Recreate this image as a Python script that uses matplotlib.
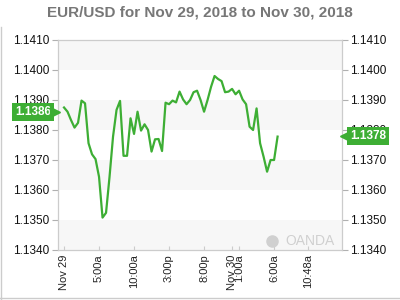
import matplotlib
matplotlib.use("Agg")
import matplotlib.pyplot as plt
from matplotlib.lines import Line2D
import matplotlib.transforms as mtransforms

plt.rcParams['font.family'] = ['Liberation Sans', 'DejaVu Sans']

title = "EUR/USD for Nov 29, 2018 to Nov 30, 2018"

# 30-minute closes, starting Nov 29 00:00
prices = [
    1.13875, 1.13861, 1.13833, 1.13808, 1.13824, 1.13898, 1.13889, 1.13756,
    1.13719, 1.13703, 1.13644, 1.13508, 1.13524, 1.13644, 1.13778, 1.13867,
    1.13897, 1.13714, 1.13714, 1.13839, 1.13787, 1.13861, 1.13798, 1.13819,
    1.13800, 1.13728, 1.13769, 1.13770, 1.13730, 1.13891, 1.13886, 1.13898,
    1.13892, 1.13928, 1.13902, 1.13886, 1.13900, 1.13926, 1.13931, 1.13900,
    1.13861, 1.13900, 1.13944, 1.13980, 1.13970, 1.13963, 1.13926, 1.13928,
    1.13937, 1.13919, 1.13931, 1.13902, 1.13886, 1.13811, 1.13800, 1.13872,
    1.13756, 1.13711, 1.13661, 1.13700, 1.13700, 1.13778,
]
hours = [i * 0.5 for i in range(len(prices))]

tick_hours = [0, 5, 10, 15, 20, 24, 25, 30, 34.8]
tick_labels = ["Nov 29", "5:00a", "10:00a", "3:00p", "8:00p", "Nov 30", "1:00a", "6:00a", "10:48a"]
y_ticks = [1.1340, 1.1350, 1.1360, 1.1370, 1.1380, 1.1390, 1.1400, 1.1410]
open_label = "1.1386"
last_label = "1.1378"

green = '#3dae34'

fig = plt.figure(figsize=(4, 3), dpi=100)
ax = fig.add_axes([0.145, 1/6, 0.71, 0.7])

for lo in y_ticks[0:-1:2]:
    ax.axhspan(lo, lo + 0.001, color='#f7f7f7', zorder=0, lw=0)

ax.plot(hours, prices, color=green, lw=1.6, zorder=3)

ax.set_xlim(-0.86, 39.7)
ax.set_ylim(1.1340, 1.1410)
ax.set_yticks(y_ticks)
ax.set_yticklabels([f"{v:.4f}" for v in y_ticks])
ax.set_xticks(tick_hours)
ax.set_xticklabels(tick_labels, rotation=90)

ax.tick_params(axis='y', left=True, right=True, labelleft=True, labelright=True,
               length=4, width=0.8, color='#b0b0b0', labelsize=8.5, labelcolor='#111111', pad=2)
ax.tick_params(axis='x', direction='in', length=3, width=0.8, color='#cccccc',
               labelsize=8, labelcolor='#222222', pad=3)
for s in ax.spines.values():
    s.set_color('#cccccc')
    s.set_linewidth(0.9)

fig.text(0.5, 0.958, title, ha='center', va='center', fontsize=11,
         fontweight='bold', color='#777777')

# value flags
trans_l = mtransforms.blended_transform_factory(ax.transAxes, ax.transData)
ax.text(-0.025, float(open_label), open_label, transform=trans_l, ha='right', va='center',
        fontsize=8.5, fontweight='bold', color='white', zorder=5, clip_on=False,
        bbox=dict(boxstyle='square,pad=0.25', fc=green, ec='none'))
ax.plot([-0.01], [float(open_label)], marker='>', ms=7, color=green, transform=trans_l,
        clip_on=False, zorder=5)
ax.text(1.028, float(last_label), last_label, transform=trans_l, ha='left', va='center',
        fontsize=8.5, fontweight='bold', color='white', zorder=5, clip_on=False,
        bbox=dict(boxstyle='square,pad=0.25', fc=green, ec='none'))
ax.plot([1.01], [float(last_label)], marker='<', ms=7, color=green, transform=trans_l,
        clip_on=False, zorder=5)

# watermark
ax.text(0.975, 0.045, "OANDA", transform=ax.transAxes, ha='right', va='center',
        fontsize=10, color='#d0d0d0', zorder=2)
ax.plot([0.755], [0.045], marker='o', ms=8, color='#d0d0d0', transform=ax.transAxes, zorder=2)

# outer frame
fig.add_artist(Line2D([0.0015, 0.0015], [0.005, 0.91], transform=fig.transFigure, color='#cccccc', lw=1))
fig.add_artist(Line2D([0, 1], [0.006, 0.006], transform=fig.transFigure, color='#cccccc', lw=1))

fig.savefig("out.png", dpi=100)
